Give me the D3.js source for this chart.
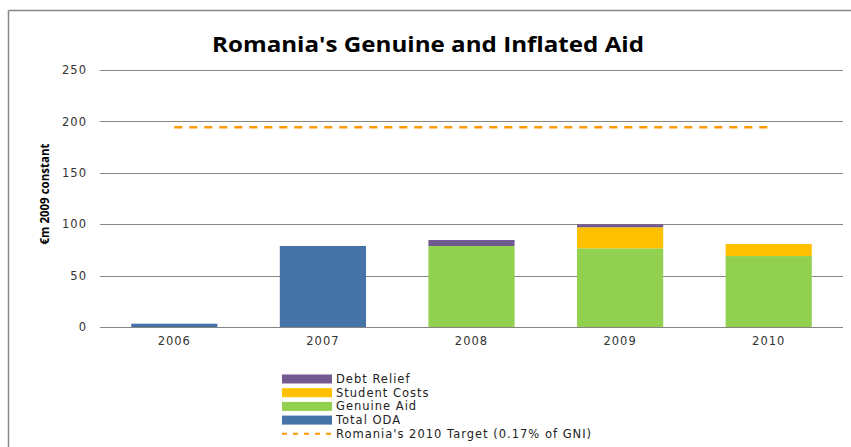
<!DOCTYPE html>
<html>
<head>
<meta charset="utf-8">
<script src="https://cdn.jsdelivr.net/npm/d3@7"></script>
<style>
  body { margin: 0; background: #fff; }
  svg { display: block; }
</style>
</head>
<body>
<div class="main"></div>
<script>
let years = ['2006', '2007', '2008', '2009', '2010'];
let totalODA = [3.2, 78.8, 0, 0, 0];
let genuineAid = [0, 0, 78.8, 76.5, 69];
let studentCosts = [0, 0, 0, 20.5, 11.7];
let debtRelief = [0, 0, 5.8, 2.9, 0];
let targetValue = 194.3;
let yTicks = [0, 50, 100, 150, 200, 250];

let opts = {
  width: 851,
  height: 447,
  left: 100,
  right: 843,
  top: 70,
  bottom: 327
};

let svg = d3.select('.main').append('svg')
  .attr('width', opts.width)
  .attr('height', opts.height);

// outer frame (top and left only visible)
svg.append('line').attr('x1', 8.5).attr('x2', opts.width).attr('y1', 10.5).attr('y2', 10.5)
  .attr('stroke', '#868686').attr('stroke-width', 1.5);
svg.append('line').attr('x1', 8.5).attr('x2', 8.5).attr('y1', 10.5).attr('y2', opts.height)
  .attr('stroke', '#868686').attr('stroke-width', 1.5);

let x = d3.scaleBand().domain(years).range([opts.left, opts.right]).paddingInner(0.42).paddingOuter(0.21);
let y = d3.scaleLinear().domain([0, 250]).range([opts.bottom, opts.top]);

// gridlines
svg.append('g').selectAll('line').data(yTicks).enter().append('line')
  .attr('x1', opts.left).attr('x2', opts.right)
  .attr('y1', d => Math.round(y(d)) + 0.5).attr('y2', d => Math.round(y(d)) + 0.5)
  .attr('stroke', '#868686').attr('stroke-width', 1);

let tickFont = 'DejaVu Sans, Verdana, sans-serif';

let yAxis = svg.append('g')
  .attr('transform', `translate(${opts.left},0)`)
  .call(d3.axisLeft(y).tickValues(yTicks).tickSize(0).tickPadding(13));
yAxis.select('.domain').remove();
yAxis.selectAll('text')
  .attr('font-family', tickFont)
  .attr('font-size', 11.5).attr('letter-spacing', 1).attr('fill', '#333');

let xAxis = svg.append('g')
  .attr('transform', `translate(0,${opts.bottom})`)
  .call(d3.axisBottom(x).tickSize(0).tickPadding(10));
xAxis.select('.domain').remove();
xAxis.selectAll('text')
  .attr('font-family', tickFont)
  .attr('font-size', 11.5).attr('letter-spacing', 1).attr('fill', '#333');

// stacked bars
let keys = ['totalODA', 'genuineAid', 'studentCosts', 'debtRelief'];
let colors = {
  totalODA: '#4572A7',
  genuineAid: '#92D050',
  studentCosts: '#FFC000',
  debtRelief: '#725990'
};
let rows = years.map((yr, i) => ({
  year: yr,
  totalODA: totalODA[i],
  genuineAid: genuineAid[i],
  studentCosts: studentCosts[i],
  debtRelief: debtRelief[i]
}));
let stacked = d3.stack().keys(keys)(rows);

svg.append('g').selectAll('g').data(stacked).enter().append('g')
  .attr('fill', s => colors[s.key])
  .selectAll('rect').data(s => s).enter().append('rect')
  .attr('x', d => x(d.data.year))
  .attr('width', x.bandwidth())
  .attr('y', d => y(d[1]))
  .attr('height', d => y(d[0]) - y(d[1]));

// target line
svg.append('line')
  .attr('x1', x(years[0]) + x.bandwidth() / 2)
  .attr('x2', x(years[years.length - 1]) + x.bandwidth() / 2)
  .attr('y1', y(targetValue)).attr('y2', y(targetValue))
  .attr('stroke', '#FF9900').attr('stroke-width', 2.5)
  .attr('stroke-dasharray', '8,7');

// title
svg.append('text')
  .attr('x', 428).attr('y', 52)
  .attr('text-anchor', 'middle')
  .attr('font-family', 'Open Sans, sans-serif')
  .attr('font-weight', 'bold')
  .attr('font-size', 21)
  .attr('textLength', 432)
  .attr('lengthAdjust', 'spacingAndGlyphs')
  .text("Romania's Genuine and Inflated Aid");

// y axis title
svg.append('text')
  .attr('transform', 'translate(49,194) rotate(-90)')
  .attr('text-anchor', 'middle')
  .attr('font-family', 'Open Sans, sans-serif')
  .attr('font-weight', 'bold')
  .attr('font-size', 11.5)
  .text('€m 2009 constant');

// legend
let legendItems = [
  { label: 'Debt Relief', color: colors.debtRelief, type: 'rect' },
  { label: 'Student Costs', color: colors.studentCosts, type: 'rect' },
  { label: 'Genuine Aid', color: colors.genuineAid, type: 'rect' },
  { label: 'Total ODA', color: colors.totalODA, type: 'rect' },
  { label: "Romania's 2010 Target (0.17% of GNI)", color: '#FF9900', type: 'line' }
];
let legend = svg.append('g').selectAll('g').data(legendItems).enter().append('g')
  .attr('transform', (d, i) => `translate(282,${379 + i * 13.7})`);
legend.filter(d => d.type === 'rect').append('rect')
  .attr('x', 0).attr('y', -4.5).attr('width', 50).attr('height', 9)
  .attr('fill', d => d.color);
legend.filter(d => d.type === 'line').append('line')
  .attr('x1', 0).attr('x2', 50).attr('y1', 0).attr('y2', 0)
  .attr('stroke', d => d.color).attr('stroke-width', 2)
  .attr('stroke-dasharray', '5,6');
legend.append('text')
  .attr('x', 54).attr('y', 4)
  .attr('font-family', tickFont)
  .attr('font-size', 11.5).attr('letter-spacing', 1).attr('fill', '#222')
  .text(d => d.label);
</script>
</body>
</html>
